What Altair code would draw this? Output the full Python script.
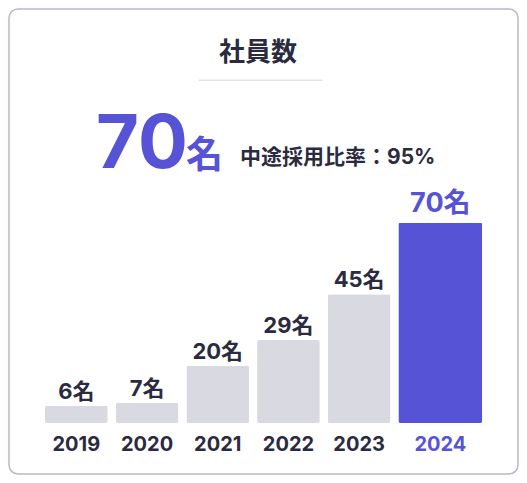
import altair as alt
import pandas as pd

# ---- data ----
years = ["2019", "2020", "2021", "2022", "2023", "2024"]
counts = [6, 7, 20, 29, 45, 70]
unit = "名"
highlight_year = "2024"
title_text = "社員数"
total_value = "70"
ratio_text = "中途採用比率：95%"

PURPLE = "#5653d6"
DARK = "#2b2b3f"
GRAY = "#d9d9e1"
FONT = "Inter, 'Noto Sans CJK JP', sans-serif"

df = pd.DataFrame({"year": years, "count": counts})
df["label"] = df["count"].astype(str) + unit

xenc = alt.X("year:N", sort=years, axis=None,
             scale=alt.Scale(range=[32, 456.2], paddingInner=0, paddingOuter=0))
yenc = alt.Y("count:Q", axis=None,
             scale=alt.Scale(domain=[0, 70], range=[414, 213.7], nice=False, zero=True))

base = alt.Chart(df).encode(x=xenc)
is_hl = alt.datum.year == highlight_year
not_hl = alt.datum.year != highlight_year

bars_norm = base.transform_filter(not_hl).mark_bar(
    size=62.7, color=GRAY, cornerRadius=2).encode(y=yenc)
bars_hl = base.transform_filter(is_hl).mark_bar(
    size=84, color=PURPLE, cornerRadius=2, xOffset=10.5).encode(y=yenc)

lab_norm = base.transform_filter(not_hl).mark_text(
    baseline="alphabetic", dy=-7, fontSize=22, fontWeight="bold", font=FONT, color=DARK
).encode(y=yenc, text="label:N")
lab_hl = base.transform_filter(is_hl).mark_text(
    baseline="alphabetic", dy=-11, fontSize=27, fontWeight="bold", font=FONT, color=PURPLE,
    xOffset=10.5
).encode(y=yenc, text="label:N")

yr_norm = base.transform_filter(not_hl).mark_text(
    baseline="alphabetic", fontSize=20, fontWeight="bold", font=FONT, color=DARK
).encode(y=alt.value(441.7), text="year:N")
yr_hl = base.transform_filter(is_hl).mark_text(
    baseline="alphabetic", fontSize=20, fontWeight="bold", font=FONT, color=PURPLE,
    xOffset=10.5
).encode(y=alt.value(441.7), text="year:N")

one = pd.DataFrame({"t": [title_text], "v": [total_value], "u": [unit], "r": [ratio_text]})
head = alt.Chart(one)
title = head.mark_text(baseline="alphabetic", fontSize=26, fontWeight="bold",
                       font=FONT, color=DARK).encode(
    x=alt.value(249), y=alt.value(52), text="t:N")
divider = head.mark_rule(color="#e3e3e8", strokeWidth=1.5).encode(
    x=alt.value(190), x2=alt.value(313.7), y=alt.value(71.3))
big = head.mark_text(baseline="alphabetic", align="left", fontSize=74, fontWeight="bold",
                     font=FONT, color=PURPLE).encode(
    x=alt.value(87), y=alt.value(159.3), text="v:N")
big_unit = head.mark_text(baseline="alphabetic", align="left", fontSize=37, fontWeight="bold",
                          font=FONT, color=PURPLE).encode(
    x=alt.value(177), y=alt.value(159.3), text="u:N")
ratio = head.mark_text(baseline="alphabetic", align="left", fontSize=21, fontWeight="bold",
                       font=FONT, color=DARK).encode(
    x=alt.value(231), y=alt.value(155), text="r:N")

chart = alt.layer(
    bars_norm, bars_hl, lab_norm, lab_hl, yr_norm, yr_hl,
    divider, title, big, big_unit, ratio
).properties(
    width=509, height=465,
    padding={"left": 1, "top": 1, "right": 1, "bottom": 1},
    autosize=alt.AutoSizeParams(type="none"),
    background="white",
).configure_view(
    stroke="#b9b9c7", strokeWidth=1.5, cornerRadius=9
)

chart.save("out.html", embed_options={"renderer": "svg", "actions": False})
